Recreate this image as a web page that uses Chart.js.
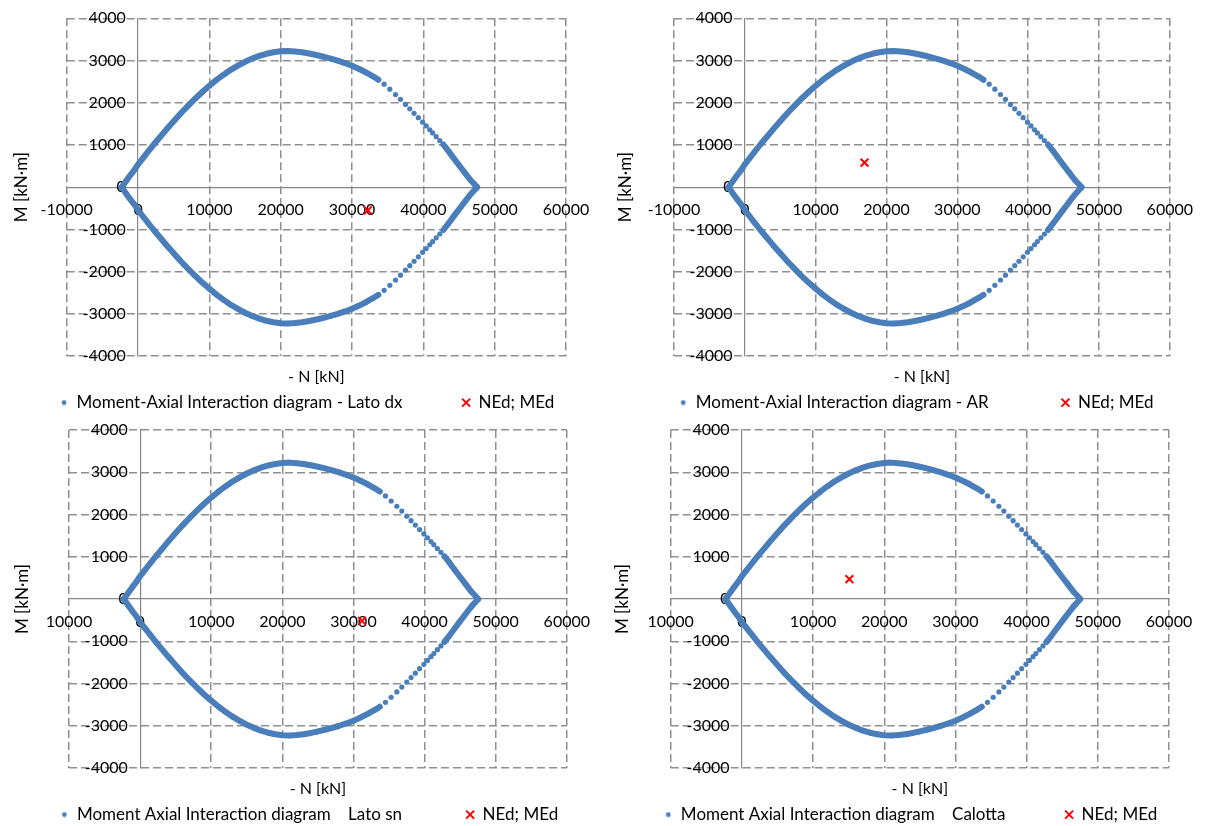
<!DOCTYPE html>
<html>
<head>
<meta charset="utf-8">
<title>Moment-Axial Interaction diagrams</title>
<script src="https://cdn.jsdelivr.net/npm/chart.js@4.4.1/dist/chart.umd.min.js"></script>
<style>
  html, body { margin: 0; padding: 0; background: #ffffff; }
  body { position: relative; width: 1206px; height: 826px; overflow: hidden; }
  canvas { position: absolute; }
</style>
</head>
<body>
<canvas id="latoDx" width="603" height="422" style="left:0;top:0"></canvas>
<canvas id="ar" width="603" height="422" style="left:603px;top:0"></canvas>
<canvas id="latoSn" width="603" height="418" style="left:0;top:413px"></canvas>
<canvas id="calotta" width="603" height="418" style="left:603px;top:413px"></canvas>
<script>
// Axis ticks: axial force N [kN] and bending moment M [kN·m]
const nTicks = [-10000, 0, 10000, 20000, 30000, 40000, 50000, 60000];
const nTickLabels = ['-10000', '0', '10000', '20000', '30000', '40000', '50000', '60000'];
const nTickLabelsLower = ['10000', '0', '10000', '20000', '30000', '40000', '50000', '60000'];
const mTicks = [-4000, -3000, -2000, -1000, 0, 1000, 2000, 3000, 4000];
const mTickLabels = ['-4000', '-3000', '-2000', '-1000', '0', '1000', '2000', '3000', '4000'];

// Resisting domain, positive-moment branch: [N, M] from the tension tip to the compression tip
const upperBranch = [
  [-2300, 0], [-1700, 140], [-1100, 280], [-500, 410], [0, 540], [700, 690], [1400, 840],
  [2200, 1010], [3000, 1170], [4000, 1370], [5000, 1560], [6000, 1750], [7000, 1925],
  [8000, 2095], [9000, 2255], [10000, 2400], [11000, 2540], [12000, 2665], [13000, 2780],
  [14000, 2880], [15000, 2970], [16000, 3045], [17000, 3110], [18000, 3160], [19000, 3195],
  [20000, 3220], [21000, 3228], [22000, 3215], [23000, 3195], [24000, 3165], [25000, 3130],
  [26000, 3090], [27000, 3045], [28000, 2995], [29000, 2940], [30000, 2875], [31000, 2800],
  [32000, 2715], [33000, 2620], [33700, 2545],
  [34500, 2440], [35300, 2320], [36100, 2195], [36800, 2080], [37500, 1960], [38100, 1855],
  [38700, 1750], [39300, 1645], [39900, 1540], [40400, 1450], [40900, 1360], [41300, 1285],
  [41800, 1195], [42300, 1105],
  [42800, 1010], [43500, 860], [44200, 700], [45000, 520], [45800, 345], [46600, 170], [47550, 0]
];

// Negative-moment branch: [N, M] from the compression tip back to the tension tip
const lowerBranch = [
  [46600, -175], [45800, -350], [45000, -525], [44200, -705], [43500, -865], [42800, -1015],
  [42300, -1110], [41800, -1200], [41300, -1290], [40900, -1365], [40400, -1455], [39900, -1545],
  [39300, -1650], [38700, -1755], [38100, -1860], [37500, -1965], [36800, -2085], [36100, -2200],
  [35300, -2325], [34500, -2445],
  [33700, -2550], [33000, -2625], [32000, -2720], [31000, -2805], [30000, -2880], [29000, -2945],
  [28000, -3000], [27000, -3050], [26000, -3095], [25000, -3135], [24000, -3170], [23000, -3200],
  [22000, -3220], [21000, -3232], [20000, -3225], [19000, -3200], [18000, -3165], [17000, -3115],
  [16000, -3050], [15000, -2975], [14000, -2885], [13000, -2785], [12000, -2670], [11000, -2545],
  [10000, -2405], [9000, -2260], [8000, -2100], [7000, -1930], [6000, -1755], [5000, -1565],
  [4000, -1375], [3000, -1175], [2200, -1015], [1400, -845], [700, -695], [0, -545],
  [-500, -415], [-1100, -285], [-1700, -145], [-2300, 0]
];

// Design actions [NEd, MEd] for each section
const nedLatoDx = [32200, -550];
const nedAR = [16900, 580];
const nedLatoSn = [31200, -520];
const nedCalotta = [15100, 470];

// Styling
const BLUE = '#4A7EBB';
const RED = '#FF0000';
const GRID = '#8f8f8f';
const AXIS = '#878787';
const TEXT = '#000000';
const FONT = 'Lato, "DejaVu Sans", sans-serif';
// N range where the computed points are far apart and are shown as separate dots
const sparseN = [33800, 42600];

const panels = [
  { id: 'latoDx', label: 'Moment-Axial Interaction diagram - Lato dx', ned: nedLatoDx, nLabels: nTickLabels,
    area: { left: 66.7, right: 566, top: 18.3, bottom: 356 }, yTitleX: 22, gap: 12, tail: 1 },
  { id: 'ar', label: 'Moment-Axial Interaction diagram - AR', ned: nedAR, nLabels: nTickLabels,
    area: { left: 71, right: 571, top: 18.3, bottom: 356 }, yTitleX: 23, gap: 15, tail: 3 },
  { id: 'latoSn', label: 'Moment Axial Interaction diagram    Lato sn', ned: nedLatoSn, nLabels: nTickLabelsLower,
    area: { left: 69, right: 570, top: 17, bottom: 355 }, yTitleX: 22.5, gap: 13, tail: 1 },
  { id: 'calotta', label: 'Moment Axial Interaction diagram    Calotta', ned: nedCalotta, nLabels: nTickLabelsLower,
    area: { left: 67.7, right: 566, top: 17, bottom: 355 }, yTitleX: 19.5, gap: 12, tail: 1 }
];

const inSparse = (n) => n > sparseN[0] && n < sparseN[1];
const tickFont = { family: FONT, size: 16 };
const xTitleSize = 16;
const yTitleSize = 17;
const legendSize = 17;
const legendPad = 7.5;

// Small round symbol for the interaction-diagram entry of the legend
const legendDot = document.createElement('canvas');
legendDot.width = 6;
legendDot.height = 6;
(() => {
  const g = legendDot.getContext('2d');
  g.fillStyle = BLUE;
  g.beginPath();
  g.arc(3, 3, 2.4, 0, Math.PI * 2);
  g.fill();
})();

function drawPanel(p) {
  const canvas = document.getElementById(p.id);
  const W = canvas.width, H = canvas.height;
  const xTitleLH = xTitleSize * 1.2;
  const yTitleLH = yTitleSize * 1.2;
  const titleTop = 21 - xTitleLH / 2;
  const legendH = legendSize + legendPad + 10;
  const yTitleTop = p.yTitleX - yTitleLH / 2;

  const gridColor = (ctx) => (ctx.tick && ctx.tick.value === 0) ? 'rgba(0,0,0,0)' : GRID;

  new Chart(canvas, {
    type: 'scatter',
    data: {
      datasets: [
        {
          label: p.label,
          data: upperBranch.concat(lowerBranch).map(([n, m]) => ({ x: n, y: m })),
          showLine: true,
          borderColor: BLUE,
          backgroundColor: BLUE,
          borderWidth: 6,
          borderJoinStyle: 'round',
          borderCapStyle: 'round',
          pointRadius: 2.6,
          pointBorderWidth: 0,
          pointBackgroundColor: BLUE,
          order: 1,
          segment: {
            borderColor: (ctx) => (inSparse(ctx.p0.parsed.x) || inSparse(ctx.p1.parsed.x)) ? 'rgba(0,0,0,0)' : BLUE
          }
        },
        {
          label: 'NEd; MEd',
          data: [{ x: p.ned[0], y: p.ned[1] }],
          showLine: false,
          pointStyle: 'crossRot',
          pointRadius: 5.5,
          pointBorderWidth: 2,
          borderColor: RED,
          backgroundColor: RED,
          order: 0
        }
      ]
    },
    options: {
      responsive: false,
      animation: false,
      events: [],
      layout: {
        padding: {
          left: 0,
          top: p.area.top,
          right: W - p.area.right,
          bottom: H - p.area.bottom - (titleTop + xTitleLH) - legendH
        }
      },
      scales: {
        x: {
          type: 'linear',
          position: { y: 0 },
          min: nTicks[0],
          max: nTicks[nTicks.length - 1],
          afterBuildTicks: (scale) => { scale.ticks = nTicks.map((v) => ({ value: v })); },
          grid: { color: gridColor, lineWidth: 1.5, drawTicks: false },
          border: { display: true, color: AXIS, width: 1.2, dash: [8, 4] },
          ticks: {
            autoSkip: false, maxRotation: 0, minRotation: 0, padding: 13,
            color: TEXT, font: tickFont,
            callback: (v, i) => p.nLabels[i]
          }
        },
        y: {
          type: 'linear',
          position: { x: 0 },
          min: mTicks[0],
          max: mTicks[mTicks.length - 1],
          afterBuildTicks: (scale) => { scale.ticks = mTicks.map((v) => ({ value: v })); },
          grid: { color: gridColor, lineWidth: 1.5, drawTicks: false },
          border: { display: true, color: AXIS, width: 1.2, dash: [8, 4] },
          ticks: {
            autoSkip: false, padding: 0,
            color: TEXT, font: tickFont,
            callback: (v, i) => mTickLabels[i] + '   '
          }
        }
      },
      plugins: {
        tooltip: { enabled: false },
        title: {
          display: true, position: 'bottom', fullSize: false, weight: 500,
          text: '- N [kN]', color: TEXT,
          font: { family: FONT, size: xTitleSize, weight: 'normal' },
          padding: { top: titleTop, bottom: 0 }
        },
        subtitle: {
          display: true, position: 'left', fullSize: false,
          text: 'M [kN·m]', color: TEXT,
          font: { family: FONT, size: yTitleSize, weight: 'normal' },
          padding: { top: yTitleTop, bottom: p.area.left - yTitleTop - yTitleLH }
        },
        legend: {
          display: true, position: 'bottom', fullSize: true, align: 'end',
          labels: {
            usePointStyle: true,
            boxWidth: 8,
            boxHeight: 8,
            padding: legendPad,
            color: TEXT,
            font: { family: FONT, size: legendSize },
            generateLabels(chart) {
              const items = Chart.defaults.plugins.legend.labels.generateLabels(chart);
              items.sort((a, b) => a.datasetIndex - b.datasetIndex);
              items[0].pointStyle = legendDot;
              items[0].text += ' '.repeat(p.gap);
              items[1].text += ' '.repeat(p.tail);
              return items;
            }
          }
        }
      }
    }
  });
}

panels.forEach(drawPanel);
</script>
</body>
</html>
